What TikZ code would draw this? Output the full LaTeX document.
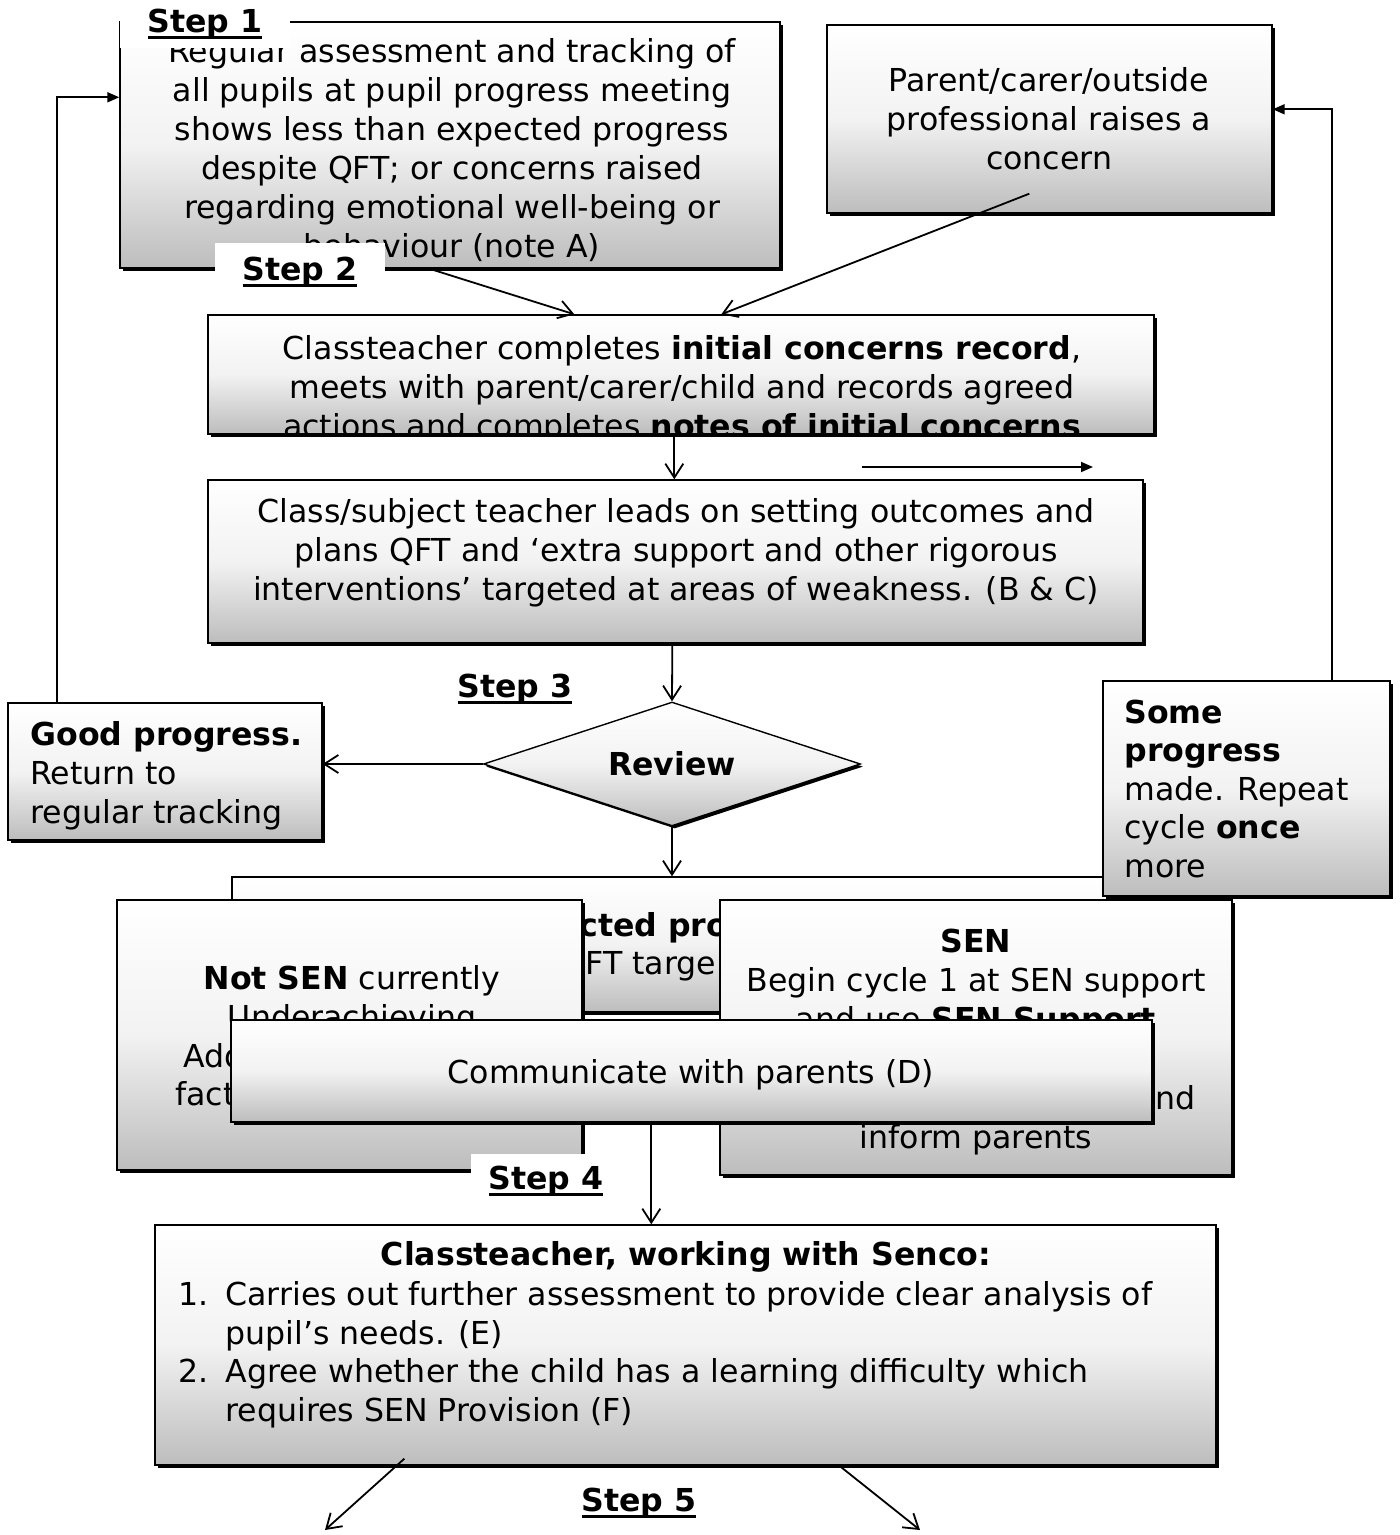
\documentclass[tikz,border=0pt]{standalone}
\usepackage{fontspec}
\setmainfont{DejaVu Sans}
\usetikzlibrary{shapes.geometric,arrows.meta,calc,shadows}
\newcommand\fs{\fontsize{15.8pt}{19.5pt}\selectfont}
\newcommand\ulx[1]{\setbox0\hbox{#1}\rlap{\rule[-3.5pt]{\wd0}{1.4pt}}\box0}
\begin{document}
\begin{tikzpicture}[x=0.5pt,y=-0.5pt,
  box/.style={draw=black, line width=0.7pt, rectangle, inner sep=0pt,
    top color=white, bottom color=black!26, middle color=black!5,
    drop shadow={shadow xshift=1.3pt,shadow yshift=-1.3pt,fill=black,opacity=1}},
  txt/.style={font=\fs, inner sep=0pt, align=center, anchor=base},
  ltxt/.style={font=\fs, inner sep=0pt, align=left, anchor=base west},
  lbl/.style={fill=white, inner sep=0pt, font=\fs\bfseries},
  arr/.style={line width=0.9pt, -{Straight Barb[length=7pt,width=9pt]}},
  farr/.style={line width=0.9pt, -{Triangle[length=6pt,width=5pt]}}]
\useasboundingbox (0,0) rectangle (1399,1535);

% Step 1 box
\node[box, minimum width=330pt, minimum height=123pt] (b1) at (450,145) {};
\node[txt] (t1) at (452,258) {Regular assessment and tracking of\\all pupils at pupil progress meeting\\shows less than expected progress\\despite QFT; or concerns raised\\regarding emotional well-being or\\behaviour (note A)};
\node[lbl, minimum width=85pt, minimum height=24pt] (s1) at (205,24) {\ulx{Step 1}};
\node[lbl, minimum width=85pt, minimum height=28.5pt] (s2) at (300,272) {\ulx{Step 2}};

% parent box
\node[box, minimum width=222.5pt, minimum height=94pt] (b2) at (1049.5,119) {};
\node[txt] (t2) at (1049,170) {Parent/carer/outside\\professional raises a\\concern};

% initial concerns
\node[box, minimum width=473pt, minimum height=59.5pt] (b3) at (681,374.5) {};
\begin{scope}
\clip (b3.south west) rectangle (b3.north east);
\node[txt] (t3) at (682,437) {Classteacher completes \textbf{initial concerns record},\\meets with parent/carer/child and records agreed\\actions and completes \textbf{notes of initial concerns}};
\end{scope}

% outcomes
\node[box, minimum width=467.5pt, minimum height=81.5pt] (b4) at (675.5,561.5) {};
\node[txt] (t4) at (676,600) {Class/subject teacher leads on setting outcomes and\\plans QFT and ‘extra support and other rigorous\\interventions’ targeted at areas of weakness. (B \& C)};

\coordinate (sa) at (862,467);
\coordinate (sb) at (1093,467);

\node[font=\fs\bfseries, inner sep=0pt] (s3) at (515,689) {\ulx{Step 3}};

\node[diamond, draw=black, line width=0.7pt, top color=white, bottom color=black!26, middle color=black!5,
  drop shadow={shadow xshift=1.3pt,shadow yshift=-1.3pt,fill=black,opacity=1},
  minimum width=188.5pt, minimum height=62pt, inner sep=0pt, aspect=3, font=\fs\bfseries] (rev) at (672,764) {Review};

% good progress
\node[box, minimum width=157pt, minimum height=68.5pt] (good) at (165,771.5) {};
\node[ltxt] (tg) at (30,823) {\textbf{Good progress.}\\Return to\\regular tracking};

% hidden box
\node[box, minimum width=464pt, minimum height=67.5pt] (b5) at (696,944.5) {};
\node[ltxt] (t5a) at (579,936) {\textbf{cted pro}};
\node[ltxt] (t5b) at (585,974) {FT targe};

% some progress
\node[box, minimum width=143.5pt, minimum height=107.5pt] (some) at (1246.5,788.5) {};
\node[ltxt, font=\fontsize{15.8pt}{19.25pt}\selectfont] (ts) at (1124,877) {\textbf{Some}\\\textbf{progress}\\made. Repeat\\cycle \textbf{once}\\more};

% not SEN
\node[box, minimum width=232.5pt, minimum height=135pt] (ns) at (349.5,1035) {};
\node[txt] (tn) at (352,1028) {\textbf{Not SEN} currently\\Underachieving};
\node[ltxt] (tn2) at (183,1067) {Add};
\node[ltxt] (tn3) at (175,1105) {fact};

% SEN
\node[box, minimum width=256pt, minimum height=137.5pt] (sen) at (976,1037.5) {};
\node[txt] (tsen) at (976,1030) {\textbf{SEN}\\Begin cycle 1 at SEN support\\and use \textbf{SEN Support}};
\node[font=\fs, inner sep=0pt, anchor=base east] (tsen2) at (1196,1109) {and};
\node[txt] (tsen3) at (976,1148) {inform parents};

% communicate
\node[box, minimum width=460.5pt, minimum height=51pt] (comm) at (691.5,1071) {};
\node[txt] (tc) at (691,1083) {Communicate with parents (D)};

\node[lbl, minimum width=75pt, minimum height=27pt] (s4) at (546,1181) {\ulx{Step 4}};

% senco box
\node[box, minimum width=530.5pt, minimum height=120pt] (b6) at (685.5,1345) {};
\node[txt] (t6) at (686,1265) {\textbf{Classteacher, working with Senco:}};
\node[ltxt, font=\fontsize{15.8pt}{19.25pt}\selectfont] (t6b) at (178,1421) {\makebox[23.5pt][l]{1.}Carries out further assessment to provide clear analysis of\\\hspace*{23.5pt}pupil’s needs. (E)\\\makebox[23.5pt][l]{2.}Agree whether the child has a learning difficulty which\\\hspace*{23.5pt}requires SEN Provision (F)};

\node[font=\fs\bfseries, inner sep=0pt] (s5) at (639,1503) {\ulx{Step 5}};
\coordinate (o1) at (325,1530);
\coordinate (o2) at (920,1530);

% connectors
\draw[arr] ($(b1.south west)+(310,0)$) -- ($(b3.north west)+(367,0)$);
\draw[arr] ($(b2.south west)+(203,-20)$) -- ($(b3.north west)+(514,0)$);
\draw[arr] ($(b3.south west)+(467,0)$) -- ($(b4.north west)+(467,0)$);
\draw[farr] (sa) -- (sb);
\draw[arr] ($(b4.south west)+(465,0)$) -- (rev.north);
\draw[arr] (rev.west) -- (rev.west -| good.east);
\draw[farr] ($(good.north west)+(50,0)$) |- ($(b1.north west)+(0,76)$);
\draw[farr] ($(some.north west)+(230,0)$) |- ($(b2.north east)+(0,85)$);
\draw[arr] (rev.south) -- (rev.south |- b5.north);
\draw[arr] ($(comm.south west)+(421,0)$) -- ($(b6.north west)+(497,0)$);
\draw[arr] ($(b6.south west)+(250,-7)$) -- (o1);
\draw[arr] ($(b6.south west)+(685,0)$) -- (o2);
\end{tikzpicture}
\end{document}
